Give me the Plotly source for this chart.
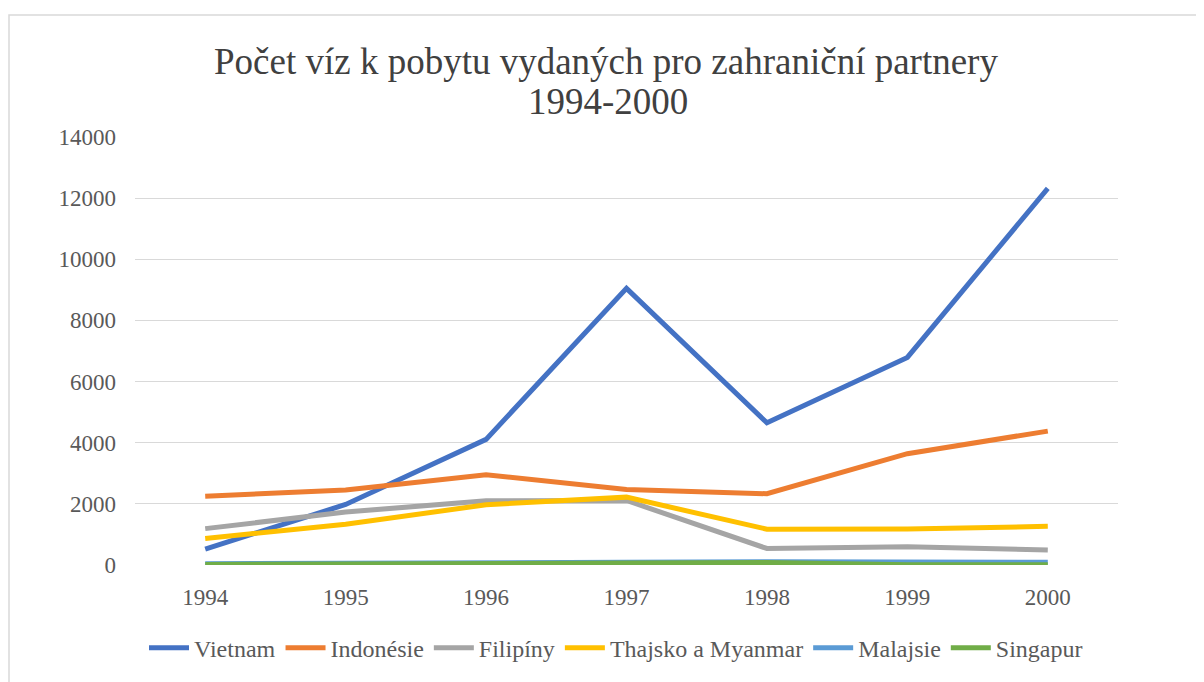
import plotly.graph_objects as go

years = ["1994", "1995", "1996", "1997", "1998", "1999", "2000"]
vietnam = [520, 1980, 4110, 9050, 4650, 6790, 12320]
indonesie = [2250, 2450, 2950, 2470, 2330, 3640, 4380]
filipiny = [1190, 1730, 2100, 2110, 540, 600, 490]
thajsko = [870, 1330, 1970, 2220, 1170, 1180, 1265]
malajsie = [40, 70, 70, 90, 110, 120, 90]
singapur = [20, 40, 20, 50, 80, 10, 10]
title_lines = ["Počet víz k pobytu vydaných pro zahraniční partnery", "1994-2000"]

series = [
    ("Vietnam", vietnam, "#4472C4"),
    ("Indonésie", indonesie, "#ED7D31"),
    ("Filipíny", filipiny, "#A5A5A5"),
    ("Thajsko a Myanmar", thajsko, "#FFC000"),
    ("Malajsie", malajsie, "#5B9BD5"),
    ("Singapur", singapur, "#70AD47"),
]

fig = go.Figure()
for name, vals, color in series:
    fig.add_trace(go.Scatter(x=years, y=vals, name=name, mode="lines",
                             line=dict(color=color, width=5)))

font = "Liberation Serif, serif"
OFF = 8  # page body margin
W, H = 1204 - OFF, 682 - OFF
L, R, T = 135 - OFF, 86, 137 - OFF
B = H - (568.3 - OFF)
pw, ph = W - L - R, H - T - B

def px(x):
    return (x - OFF - L) / pw

def py(y):
    return (H - B - (y - OFF)) / ph

fig.update_layout(
    width=W, height=H,
    margin=dict(l=L, r=R, t=T, b=B, pad=0),
    paper_bgcolor="white", plot_bgcolor="white",
    font=dict(family=font, color="#595959", size=23),
    showlegend=True,
    legend=dict(orientation="h", x=px(616), xanchor="center", y=py(652), yanchor="middle",
                font=dict(family=font, size=24, color="#595959"), itemwidth=40,
                tracegroupgap=0),
    xaxis=dict(type="category", range=[-0.5, 6.5], showgrid=False, showline=False,
               zeroline=False, ticks="", tickfont=dict(family=font, size=23, color="#595959"),
               ticklabelstandoff=16, fixedrange=True),
    yaxis=dict(range=[0, 14000], dtick=2000, tickformat="d", showgrid=True,
               gridcolor="#D9D9D9", gridwidth=1.3,
               zeroline=False, showline=False, ticks="",
               tickfont=dict(family=font, size=23, color="#595959"),
               ticklabelstandoff=18, fixedrange=True),
    annotations=[
        dict(xref="paper", yref="paper", x=px(606), y=py(61), xanchor="center",
             yanchor="middle", showarrow=False, text=title_lines[0],
             font=dict(family=font, size=37, color="#404040")),
        dict(xref="paper", yref="paper", x=px(608), y=py(101), xanchor="center",
             yanchor="middle", showarrow=False, text=title_lines[1],
             font=dict(family=font, size=37, color="#404040")),
    ],
    shapes=[dict(type="rect", xref="paper", yref="paper", x0=px(9), x1=px(1215),
                 y0=py(700), y1=py(14), line=dict(color="#D9D9D9", width=1.5),
                 fillcolor="rgba(0,0,0,0)", layer="below")],
)

fig.write_html("out.html")
